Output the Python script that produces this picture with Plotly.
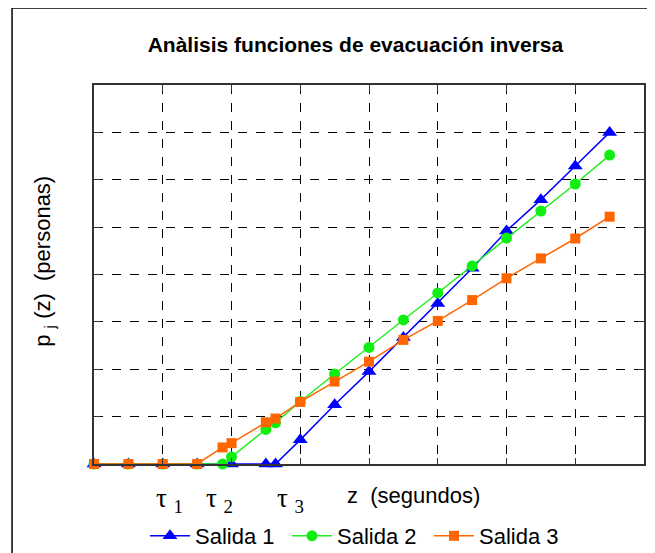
import plotly.graph_objects as go

# datos (z en segundos, p en personas)
z_salida1 = [0, 5, 10, 15, 20, 25, 26.4, 30, 35, 40, 45, 50, 55, 60, 65, 70, 75]
p_salida1 = [0, 0, 0, 0, 0, 0, 0, 5.1, 12.5, 19.5, 26.7, 33.9, 41.3, 49.2, 55.8, 62.9, 70]

z_salida2 = [0, 5, 10, 15, 18.7, 20, 25, 26.4, 30, 35, 40, 45, 50, 55, 60, 65, 70, 75]
p_salida2 = [0, 0, 0, 0, 0, 1.5, 7.3, 8.7, 13.2, 19, 24.6, 30.4, 36.1, 41.8, 47.7, 53.4, 59.1, 65.2]

z_salida3 = [0, 5, 10, 15, 18.7, 20, 25, 26.4, 30, 35, 40, 45, 50, 55, 60, 65, 70, 75]
p_salida3 = [0, 0, 0, 0, 3.5, 4.4, 8.8, 9.6, 13.1, 17.4, 21.6, 26.2, 30.2, 34.6, 39.2, 43.4, 47.6, 52.2]

tau_labels = ["1", "2", "3"]
tau_pos = [11.0, 18.2, 28.6]

fig = go.Figure()

fig.add_trace(go.Scatter(
    x=z_salida1, y=p_salida1, name="Salida 1", mode="lines+markers",
    line=dict(color="#0000FF", width=1.5),
    marker=dict(symbol="triangle-up", size=13, color="#0000FF"),
    cliponaxis=False,
))
fig.add_trace(go.Scatter(
    x=z_salida2, y=p_salida2, name="Salida 2", mode="lines+markers",
    line=dict(color="#22EE22", width=1.5),
    marker=dict(symbol="circle", size=11, color="#11EE11"),
    cliponaxis=False,
))
fig.add_trace(go.Scatter(
    x=z_salida3, y=p_salida3, name="Salida 3", mode="lines+markers",
    line=dict(color="#FF6600", width=1.5),
    marker=dict(symbol="square", size=10, color="#FF6600"),
    cliponaxis=False,
))

axis_style = dict(
    range=[0, 80], dtick=10, showticklabels=False,
    showgrid=True, gridcolor="black", griddash="dash", gridwidth=1,
    zeroline=False, showline=True, linecolor="#333333", linewidth=1.5,
    mirror="ticks", ticks="inside", ticklen=6, tickcolor="#333333",
)
fig.update_xaxes(**axis_style)
fig.update_yaxes(**axis_style)

# etiquetas tau bajo el eje
for lab, xp in zip(tau_labels, tau_pos):
    fig.add_annotation(
        x=xp, xref="x", y=-0.095, yref="paper", yanchor="middle", showarrow=False,
        text="τ <sub>" + lab + "</sub>",
        font=dict(family="Liberation Serif", size=27, color="black"),
    )

fig.add_annotation(
    x=0.58, xref="paper", xanchor="center", y=-0.083, yref="paper", yanchor="middle",
    showarrow=False, text="z  (segundos)",
    font=dict(family="Liberation Sans", size=22, color="black"),
)

fig.add_annotation(
    x=-0.09, xref="paper", xanchor="center", y=0.535, yref="paper", yanchor="middle",
    showarrow=False, textangle=-90,
    text="p <sub>j</sub> (z)  (personas)",
    font=dict(family="Liberation Sans", size=22, color="black"),
)

# marco exterior del gráfico
fig.add_shape(type="line", xref="paper", yref="paper", x0=-0.149, x1=1.1, y0=1.203, y1=1.203,
              line=dict(color="black", width=1.5))
fig.add_shape(type="line", xref="paper", yref="paper", x0=-0.149, x1=-0.149, y0=1.203, y1=-0.3,
              line=dict(color="black", width=1.5))

# la página deja 8 px de margen, así que la figura se reduce en 8 px
fig.update_layout(
    width=647, height=545,
    margin=dict(l=86, r=11, t=77, b=89, autoexpand=False),
    paper_bgcolor="white", plot_bgcolor="white",
    title=dict(
        text="<b>Anàlisis funciones de evacuación inversa</b>",
        x=0.537, xref="container", xanchor="center",
        y=0.932, yref="container", yanchor="middle",
        font=dict(family="Liberation Sans", size=21, color="black"),
    ),
    legend=dict(
        orientation="h", x=0.0927, xanchor="left", y=-0.19, yanchor="middle",
        font=dict(family="Liberation Sans", size=22, color="black"),
        bgcolor="rgba(0,0,0,0)", itemwidth=40,
        entrywidth=87, entrywidthmode="pixels",
    ),
    showlegend=True,
)

fig.write_html("out.html")
